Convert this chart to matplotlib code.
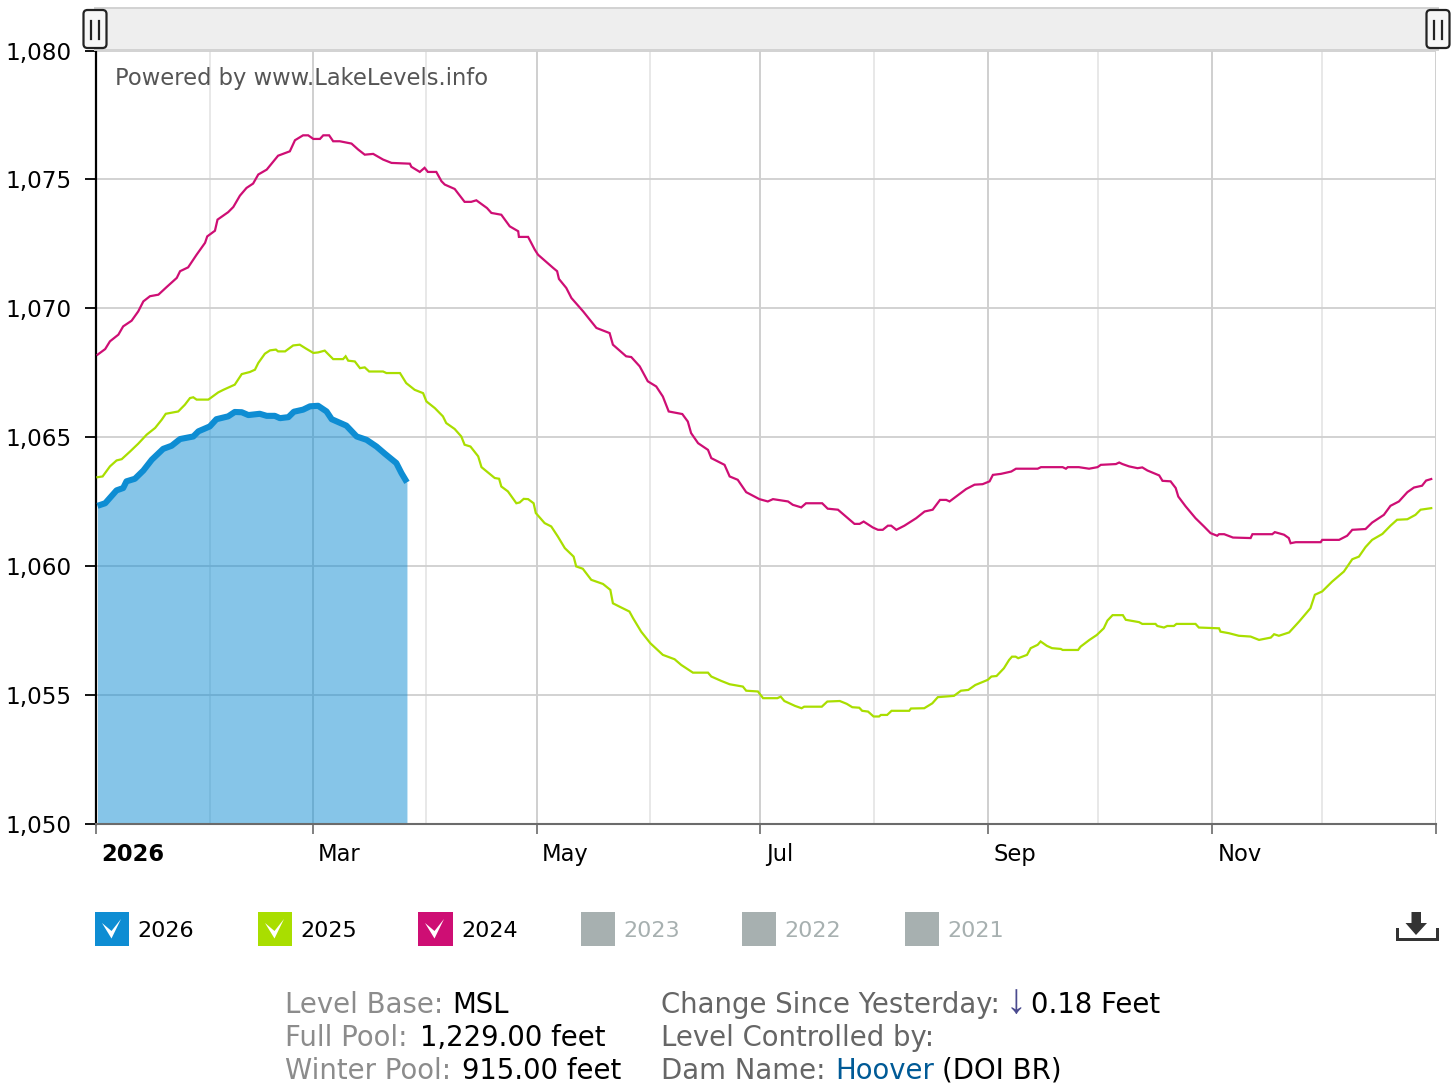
import matplotlib
matplotlib.use("Agg")
import matplotlib.pyplot as plt
from matplotlib.patches import Rectangle, FancyBboxPatch, Polygon
from matplotlib.ticker import FixedLocator, FuncFormatter
from matplotlib.transforms import ScaledTranslation

# Lake Mead surface elevation (feet) by day of the year
days_2026 = [0.4, 2.5, 5.6, 7.4, 8.3, 10.6, 12.9, 15.2, 18.3, 20.6, 22.9, 26.5, 27.9, 31, 32.8, 36, 37.8, 39.7,
             41.5, 44.6, 46.5, 48.7, 50.1, 52.4, 53.9, 56.4, 58.3, 60.5, 62.8, 64.2, 68.2, 71, 73.7, 76.4, 78.7,
             81.8, 83.2, 84.7]
level_2026 = [1062.34, 1062.44, 1062.94, 1063.03, 1063.29, 1063.39, 1063.71, 1064.13, 1064.55, 1064.67, 1064.93,
              1065.03, 1065.23, 1065.42, 1065.70, 1065.81, 1065.98, 1065.97, 1065.86, 1065.91, 1065.83, 1065.83,
              1065.74, 1065.78, 1065.99, 1066.07, 1066.20, 1066.22, 1066.00, 1065.70, 1065.45, 1065.03, 1064.90,
              1064.64, 1064.36, 1064.00, 1063.61, 1063.25]

days_2025 = [0.4, 1.8, 3.8, 5.6, 7, 9.3, 11.5, 13.8, 16.1, 17.9, 19, 22.4, 24.2, 25.6, 26.5, 27.4, 30.6, 33.3, 34.7,
             37.8, 39.7, 41.9, 43.3, 44.2, 46, 47.4, 49, 49.6, 51.5, 53.7, 55.5, 57.3, 59.2, 60.5, 62.3, 64.6, 67.3,
             68, 68.7, 70.5, 71.9, 73.2, 74.4, 78.2, 79.1, 82.8, 84.5, 86.8, 89.1, 90, 92.3, 94.5, 95.4, 97.7, 99.5,
             100.4, 102, 104.1, 105, 108.6, 109.8, 110.4, 112.2, 114.5, 115.4, 116.5, 117.7, 119.2, 119.8, 122.2,
             124, 125.8, 127.7, 130.1, 130.8, 132.6, 134.9, 138.1, 140.1, 140.8, 142.6, 145.3, 146.3, 148.5, 151,
             154.4, 157.6, 159.4, 162.6, 166.7, 167.6, 170.3, 172.6, 176.2, 177.1, 180.3, 181.7, 185.6, 186.5,
             187.5, 190.4, 192.2, 192.9, 197.7, 199.2, 202.6, 204.5, 206, 207.9, 208.7, 210.3, 211.8, 213.3, 213.8,
             215.5, 216.7, 221.5, 222, 225.6, 227.8, 229.3, 233.7, 235.6, 237.6, 239.5, 242.9, 243.9, 245.3, 247.3,
             248.7, 249.5, 250.5, 251.2, 253.6, 254.6, 256.5, 257.3, 259, 260.4, 262.8, 263.3, 267.5, 268.2, 270.6,
             272.6, 274.5, 275.5, 276.9, 279.7, 280.5, 284.1, 285, 288.6, 289.1, 290.9, 291.8, 293.6, 294.3, 299.5,
             300.4, 305.9, 306.3, 308.6, 311.3, 314.5, 316.8, 320, 320.9, 322.2, 325, 327.7, 330.8, 332, 334, 336.7,
             339.9, 342.2, 344, 345.8, 347.6, 350.4, 352.6, 354.4, 357.2, 359.4, 360.8, 363.7]
level_2025 = [1063.45, 1063.48, 1063.87, 1064.10, 1064.15, 1064.45, 1064.75, 1065.10, 1065.36, 1065.68, 1065.91,
              1066.00, 1066.26, 1066.52, 1066.55, 1066.46, 1066.46, 1066.74, 1066.84, 1067.04, 1067.45, 1067.53,
              1067.62, 1067.88, 1068.24, 1068.37, 1068.40, 1068.33, 1068.33, 1068.56, 1068.59, 1068.43, 1068.27,
              1068.29, 1068.36, 1068.03, 1068.03, 1068.14, 1067.97, 1067.94, 1067.68, 1067.71, 1067.55, 1067.55,
              1067.49, 1067.49, 1067.10, 1066.84, 1066.71, 1066.39, 1066.13, 1065.81, 1065.55, 1065.32, 1065.03,
              1064.71, 1064.64, 1064.26, 1063.84, 1063.42, 1063.39, 1063.09, 1062.90, 1062.44, 1062.47, 1062.61,
              1062.60, 1062.44, 1062.06, 1061.67, 1061.54, 1061.15, 1060.70, 1060.37, 1059.99, 1059.90, 1059.47,
              1059.31, 1059.08, 1058.56, 1058.43, 1058.24, 1057.98, 1057.46, 1057.01, 1056.56, 1056.39, 1056.17,
              1055.87, 1055.87, 1055.72, 1055.55, 1055.42, 1055.33, 1055.17, 1055.14, 1054.88, 1054.88, 1054.94,
              1054.77, 1054.58, 1054.49, 1054.55, 1054.55, 1054.75, 1054.77, 1054.66, 1054.53, 1054.51, 1054.39,
              1054.36, 1054.17, 1054.17, 1054.23, 1054.23, 1054.39, 1054.39, 1054.48, 1054.49, 1054.68, 1054.92,
              1054.97, 1055.17, 1055.20, 1055.39, 1055.59, 1055.72, 1055.74, 1056.04, 1056.36, 1056.49, 1056.49,
              1056.43, 1056.56, 1056.82, 1056.95, 1057.08, 1056.91, 1056.82, 1056.79, 1056.75, 1056.75, 1056.88,
              1057.14, 1057.33, 1057.59, 1057.89, 1058.10, 1058.10, 1057.92, 1057.83, 1057.76, 1057.76, 1057.68,
              1057.62, 1057.68, 1057.68, 1057.76, 1057.76, 1057.62, 1057.59, 1057.46, 1057.40, 1057.30, 1057.27,
              1057.14, 1057.23, 1057.36, 1057.30, 1057.43, 1057.85, 1058.37, 1058.89, 1059.02, 1059.40, 1059.79,
              1060.27, 1060.37, 1060.74, 1061.02, 1061.25, 1061.57, 1061.80, 1061.82, 1061.99, 1062.19, 1062.25]

days_2024 = [0.4, 2.5, 3.8, 6.1, 7.4, 9.7, 11.5, 12.9, 14.7, 17, 19.2, 22, 22.9, 25.1, 27.4, 29.7, 30.3, 32.4, 33.1,
             36, 37.4, 39.2, 41, 42.8, 44.2, 46.5, 49.6, 52.8, 54.2, 56.4, 57.8, 59.2, 61, 61.9, 63.5, 64.6, 66.4,
             69.6, 71.4, 73.2, 75.5, 78.2, 80.5, 85.5, 85.9, 88.2, 89.5, 90.4, 92.7, 94.1, 95, 97.7, 100.4, 102.2,
             103.6, 106.5, 107.7, 110.4, 112.7, 115, 115.2, 117.7, 119.5, 120.4, 124.5, 125.6, 126.1, 128.1, 129.5,
             132.7, 136.3, 139.9, 140.8, 144.4, 145.8, 148.1, 150.3, 152.6, 154.4, 156, 159.7, 161.2, 162.1, 164,
             166.7, 167.6, 171.2, 172.6, 174.8, 177.1, 180.7, 183, 184.4, 188.5, 189.8, 192.1, 193.4, 197.8, 199.3,
             202.1, 204.8, 206.6, 208, 209.1, 211.6, 213, 214.3, 215.7, 216.6, 218, 220.2, 223.4, 225.7, 227.9,
             229.9, 231.6, 232.5, 234.3, 237, 239.3, 241.5, 243.4, 244.3, 246.5, 249.3, 250.6, 256.5, 257.4, 263.3,
             264.2, 264.7, 267.7, 270.5, 272.8, 273.7, 277.8, 278.7, 279.6, 281.4, 283.7, 285, 286.4, 289.6, 290.5,
             292.7, 294.1, 294.8, 296.8, 299.5, 301.8, 303.6, 305.4, 305.9, 307.3, 309.7, 314.5, 315, 320.4, 321.1,
             323.6, 324.9, 325.4, 326.8, 333.6, 334, 338.6, 340.8, 342.2, 345.8, 347.6, 350.8, 352.6, 354.9, 357.2,
             359, 361.2, 362.3, 363.7]
level_2024 = [1068.20, 1068.42, 1068.72, 1068.98, 1069.30, 1069.52, 1069.88, 1070.27, 1070.47, 1070.53, 1070.82,
              1071.18, 1071.44, 1071.59, 1072.08, 1072.54, 1072.79, 1073.01, 1073.44, 1073.73, 1073.93, 1074.37,
              1074.67, 1074.84, 1075.19, 1075.38, 1075.92, 1076.09, 1076.52, 1076.71, 1076.71, 1076.57, 1076.57,
              1076.71, 1076.71, 1076.48, 1076.48, 1076.39, 1076.16, 1075.96, 1075.99, 1075.77, 1075.64, 1075.61,
              1075.49, 1075.29, 1075.45, 1075.29, 1075.29, 1074.93, 1074.80, 1074.63, 1074.13, 1074.13, 1074.19,
              1073.89, 1073.70, 1073.63, 1073.18, 1072.99, 1072.77, 1072.77, 1072.28, 1072.08, 1071.57, 1071.44,
              1071.14, 1070.79, 1070.40, 1069.88, 1069.24, 1069.04, 1068.59, 1068.14, 1068.11, 1067.75, 1067.17,
              1066.97, 1066.58, 1066.00, 1065.90, 1065.61, 1065.16, 1064.77, 1064.51, 1064.19, 1063.93, 1063.48,
              1063.35, 1062.87, 1062.60, 1062.51, 1062.60, 1062.51, 1062.38, 1062.28, 1062.44, 1062.44, 1062.23,
              1062.19, 1061.86, 1061.64, 1061.64, 1061.73, 1061.50, 1061.41, 1061.41, 1061.57, 1061.57, 1061.41,
              1061.57, 1061.86, 1062.12, 1062.19, 1062.57, 1062.57, 1062.51, 1062.70, 1062.99, 1063.16, 1063.18,
              1063.29, 1063.54, 1063.58, 1063.67, 1063.78, 1063.78, 1063.84, 1063.84, 1063.78, 1063.84, 1063.84,
              1063.78, 1063.84, 1063.93, 1063.96, 1064.02, 1063.96, 1063.87, 1063.80, 1063.83, 1063.71, 1063.52,
              1063.31, 1063.29, 1063.03, 1062.70, 1062.32, 1061.86, 1061.54, 1061.28, 1061.18, 1061.24, 1061.24,
              1061.11, 1061.09, 1061.24, 1061.24, 1061.32, 1061.22, 1061.09, 1060.89, 1060.93, 1060.93, 1061.02,
              1061.02, 1061.18, 1061.41, 1061.44, 1061.69, 1061.99, 1062.34, 1062.51, 1062.87, 1063.05, 1063.12,
              1063.32, 1063.38]

year_end = 365
major_days = [0, 59, 120, 181, 243, 304, 365]
major_labels = ["2026", "Mar", "May", "Jul", "Sep", "Nov", ""]
minor_days = [31, 90, 151, 212, 273, 334]
level_ticks = [1050, 1055, 1060, 1065, 1070, 1075, 1080]

legend_years = ["2026", "2025", "2024", "2023", "2022", "2021"]

BLUE, GREEN, PINK = "#0e8dd3", "#a9de00", "#ce0e74"
MUTED = "#a7b0b0"
plt.rcParams["font.family"] = "DejaVu Sans"

W, H = 1456, 1091
fig = plt.figure(figsize=(W / 100, H / 100), dpi=100, facecolor="white")

left, right, top, bottom = 96, 1436, 50.5, 824
ax = fig.add_axes([left / W, 1 - bottom / H, (right - left) / W, (bottom - top) / H])
ax.set_xlim(0, year_end)
ax.set_ylim(1050, 1080)
ax.set_axisbelow(True)

# Two-month gridlines, with a fainter set on the months between them
ax.xaxis.set_major_locator(FixedLocator(major_days))
ax.xaxis.set_minor_locator(FixedLocator(minor_days))
ax.set_xticklabels(major_labels)
ax.yaxis.set_major_locator(FixedLocator(level_ticks))
ax.yaxis.set_major_formatter(FuncFormatter(lambda v, _: f"{int(v):,}"))
ax.grid(True, axis="y", color="#cfcfcf", lw=1.3)
ax.grid(True, axis="x", which="major", color="#cfcfcf", lw=1.4)
ax.grid(True, axis="x", which="minor", color="#e8e8e8", lw=1.4)

for side in ("top", "right"):
    ax.spines[side].set_visible(False)
ax.spines["left"].set_color("black")
ax.spines["left"].set_linewidth(1.6)
ax.spines["bottom"].set_color("#6b6b6b")
ax.spines["bottom"].set_linewidth(1.5)

ax.tick_params(axis="y", length=8, width=1.3, color="black", pad=9.5, labelsize=16.7)
ax.tick_params(axis="x", which="major", length=7, width=1.2, color="#6b6b6b", pad=6.6, labelsize=16.3)
ax.tick_params(axis="x", which="minor", length=0)

# Month labels sit just to the right of their tick
shift = ScaledTranslation(5.5 / 100, 0, fig.dpi_scale_trans)
for lbl in ax.get_xticklabels():
    lbl.set_horizontalalignment("left")
    lbl.set_transform(lbl.get_transform() + shift)
ax.get_xticklabels()[0].set_fontweight("bold")

ax.fill_between(days_2026, level_2026, 1050, color=BLUE, alpha=0.5, lw=0, zorder=2)
ax.plot(days_2024, level_2024, color=PINK, lw=1.6, zorder=3, solid_joinstyle="miter")
ax.plot(days_2025, level_2025, color=GREEN, lw=1.6, zorder=3, solid_joinstyle="miter")
ax.plot(days_2026, level_2026, color=BLUE, lw=4.4, zorder=4, solid_capstyle="butt")

# Page furniture is laid out in pixel coordinates on a full-figure overlay
ui = fig.add_axes([0, 0, 1, 1], facecolor="none")
ui.set_xlim(0, W)
ui.set_ylim(H, 0)
ui.axis("off")

ui.add_patch(Rectangle((95, 8), 1343, 42, fc="#eeeeee", ec="#d2d2d2", lw=1.4))


def range_handle(cx):
    ui.add_patch(FancyBboxPatch((cx - 11.5, 10), 23, 38, boxstyle="round,pad=0,rounding_size=4",
                                fc="#f6f6f6", ec="#222222", lw=1.6, zorder=5))
    for dx in (-3.7, 3.7):
        ui.plot([cx + dx, cx + dx], [21, 39], color="#222222", lw=1.6, zorder=6)


range_handle(95)
range_handle(1438)

ui.text(115, 78.5, "Powered by www.LakeLevels.info", color="#555555", fontsize=16.3, va="center", ha="left")

# Year toggles
swatch_x = [95, 258, 418, 581, 742, 905]
swatch_w = [34, 34, 35, 34, 34, 34]
swatch_on = [BLUE, GREEN, PINK, MUTED, MUTED, MUTED]
for i, year in enumerate(legend_years):
    x0 = swatch_x[i]
    ui.add_patch(Rectangle((x0, 912), swatch_w[i], 34, fc=swatch_on[i], ec="none"))
    active = i < 3
    if active:
        cx = x0 + 17
        ui.add_patch(Polygon([(cx - 10, 923), (cx - 0.5, 931), (cx + 9, 919), (cx - 0.5, 938.5)],
                             closed=True, fc="white", ec="none"))
    ui.text(x0 + swatch_w[i] + 8.5, 931, year, color="black" if active else MUTED,
            fontsize=16, va="center", ha="left")

# Download icon
ui.add_patch(Polygon([(1411.5, 912), (1421, 912), (1421, 923), (1427, 923), (1416, 935), (1405.5, 923), (1411.5, 923)],
                     closed=True, fc="#333333", ec="none"))
ui.add_patch(Polygon([(1396, 928), (1398.5, 928), (1398.5, 937.5), (1436, 937.5), (1436, 928), (1439, 928),
                      (1439, 941), (1396, 941)], closed=True, fc="#333333", ec="none"))

# Dam information block
GREY_LIGHT, GREY_DARK = "#8c8c8c", "#666666"
INFO_SIZE = 19.8
info_rows = [
    (285, 1005, "Level Base:", GREY_LIGHT),
    (452, 1005, "MSL", "black"),
    (285, 1038, "Full Pool:", GREY_LIGHT),
    (420, 1038, "1,229.00 feet", "black"),
    (285, 1071, "Winter Pool:", GREY_LIGHT),
    (462, 1071, "915.00 feet", "black"),
    (661, 1005, "Change Since Yesterday:", GREY_DARK),
    (1031, 1005, "0.18 Feet", "black"),
    (661, 1038, "Level Controlled by:", GREY_DARK),
    (661, 1071, "Dam Name:", GREY_DARK),
    (835, 1071, "Hoover", "#005a96"),
    (942, 1071, "(DOI BR)", "black"),
]
for x, y, s, c in info_rows:
    ui.text(x, y, s, color=c, fontsize=INFO_SIZE, va="center", ha="left")
ui.text(1015.5, 1002, "↓", color="#4b4b8f", fontsize=30, va="center", ha="center", family="Liberation Sans")

fig.savefig("out.png", dpi=100, facecolor="white")
